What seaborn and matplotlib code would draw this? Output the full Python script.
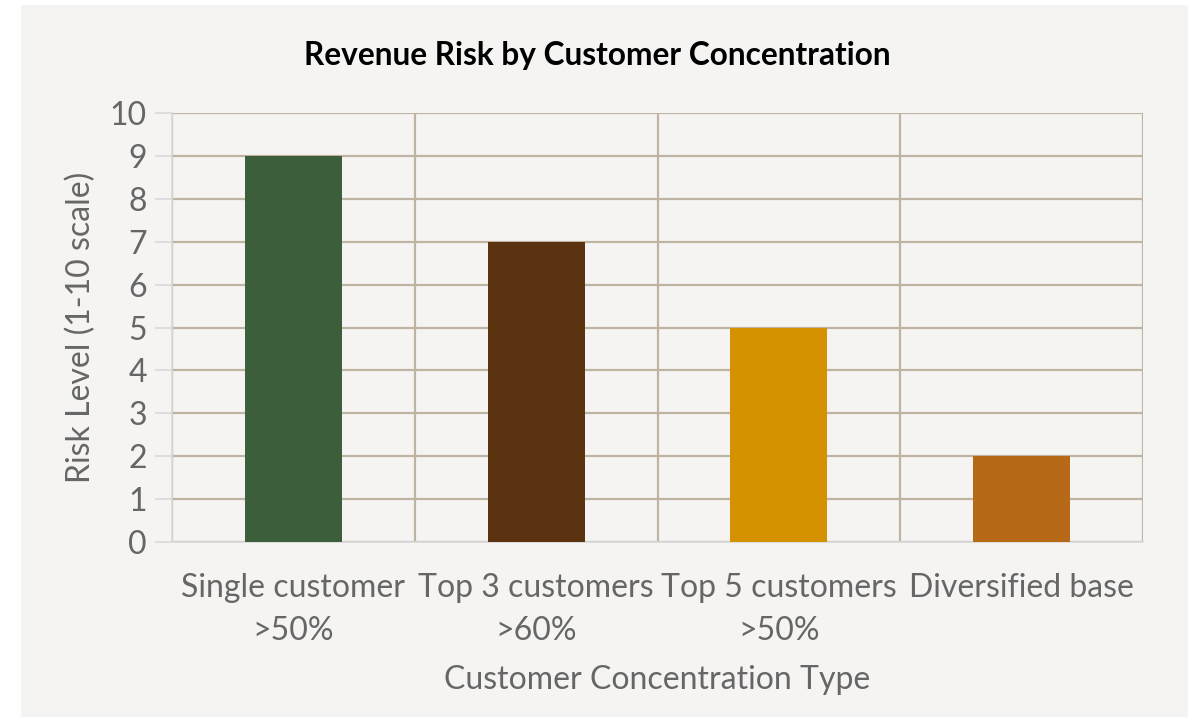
import matplotlib
matplotlib.use("Agg")
import matplotlib.pyplot as plt
import seaborn as sns
import pandas as pd
from matplotlib.patches import Rectangle
from matplotlib.ticker import FixedLocator

categories = ["Single customer\n>50%", "Top 3 customers\n>60%", "Top 5 customers\n>50%", "Diversified base"]
risk_values = [9, 7, 5, 2]
bar_colors = ["#3C5E3B", "#5C3311", "#D49100", "#B66917"]
y_ticks = list(range(0, 11))

title = "Revenue Risk by Customer Concentration"
x_label = "Customer Concentration Type"
y_label = "Risk Level (1-10 scale)"

sns.set_theme(style="white")
plt.rcParams["font.family"] = ["Lato", "DejaVu Sans"]

BG = "#F5F4F2"
GRID = "#BFB3A1"
AXIS = "#D9D9D9"
TXT = "#666666"
FS = 23

fig = plt.figure(figsize=(11.88, 7.18), dpi=100, facecolor="white")
bg = Rectangle((21 / 1188, 1 / 718), 1 - 21 / 1188, 1 - 6 / 718,
               transform=fig.transFigure, facecolor=BG, edgecolor="none", zorder=-10)
fig.add_artist(bg)

ax = fig.add_axes([172 / 1188, (718 - 542) / 718, (1143 - 172) / 1188, (542 - 113) / 718])
ax.set_facecolor(BG)

df = pd.DataFrame({"cat": categories, "val": risk_values})
sns.barplot(data=df, x="cat", y="val", hue="cat", palette=bar_colors, legend=False,
            width=0.4, saturation=1, linewidth=0, edgecolor="none", ax=ax, zorder=3)

ax.set_ylim(0, 10)
ax.set_xlim(-0.5, len(categories) - 0.5)
ax.yaxis.set_major_locator(FixedLocator(y_ticks))
ax.set_yticklabels([str(t) for t in y_ticks])

# horizontal gridlines
ax.grid(axis="y", which="major", color=GRID, linewidth=1.6, zorder=1)
ax.set_axisbelow(True)
# vertical separators between categories
ax.xaxis.set_minor_locator(FixedLocator([i + 0.5 for i in range(len(categories))] + [-0.5]))
ax.grid(axis="x", which="minor", color=GRID, linewidth=1.6, zorder=1)
ax.grid(axis="x", which="major", visible=False)

for s in ["top", "right"]:
    ax.spines[s].set_visible(False)
ax.spines["left"].set_color(AXIS)
ax.spines["left"].set_linewidth(1.2)
ax.spines["bottom"].set_color(AXIS)
ax.spines["bottom"].set_linewidth(1.2)
ax.spines["left"].set_zorder(2)

ax.tick_params(axis="x", which="major", length=0, pad=22, labelsize=FS, labelcolor=TXT)
ax.tick_params(axis="x", which="minor", length=10, width=1.2, color=AXIS, direction="out")
ax.tick_params(axis="y", which="major", length=12, width=1.2, color=AXIS, labelsize=FS,
               labelcolor=TXT, pad=6, left=True)
for lbl in ax.get_xticklabels():
    lbl.set_linespacing(1.55)
    lbl.set_verticalalignment("top")

ax.set_xlabel(x_label, fontsize=FS, color=TXT, labelpad=14)
ax.set_ylabel(y_label, fontsize=FS, color=TXT, labelpad=10)

fig.text(597 / 1188, 1 - 55 / 718, title, ha="center", va="center",
         fontsize=22.8, fontweight="bold", color="black")

fig.savefig("out.png", dpi=100, facecolor="white")
